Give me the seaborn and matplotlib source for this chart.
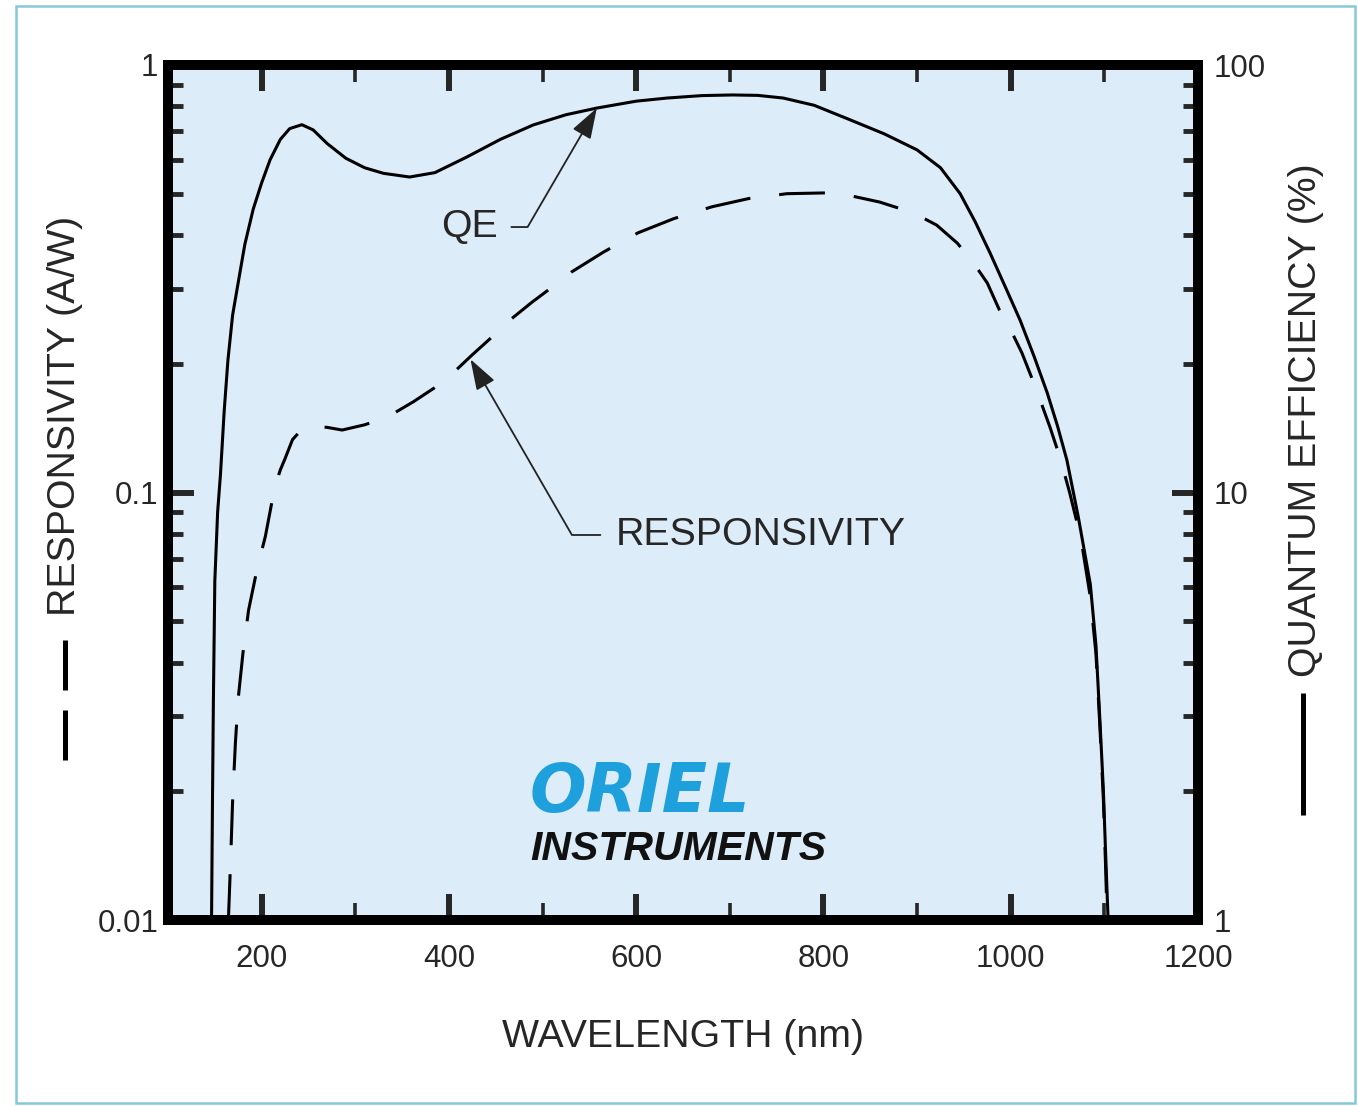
import numpy as np
import pandas as pd
import matplotlib.pyplot as plt
import seaborn as sns
from matplotlib.ticker import FixedLocator, LogLocator, NullFormatter
from matplotlib.lines import Line2D
from matplotlib.patches import Rectangle

# Quantum efficiency (%)
qe_nm = [146.5, 147.5, 148.5, 150, 153, 156, 160, 164, 169, 175, 182, 191, 200,
         209, 220, 230, 243, 255, 270, 290, 310, 330, 358, 385, 419, 455, 490,
         525, 558, 600, 633, 670, 703, 730, 757, 790, 828, 865, 900, 925, 946,
         962, 978, 995, 1010, 1025, 1039, 1050, 1060, 1072, 1085, 1091, 1095,
         1099, 1101, 1104]
qe_pct = [1.0, 1.9, 3.3, 6.2, 9.0, 11.0, 15.5, 20.4, 26, 31, 38, 46, 53,
          60, 67, 71, 72.5, 70.5, 65.5, 60.5, 57.5, 55.8, 54.7, 56, 60.9, 67, 72.4,
          76.5, 79.3, 82.3, 83.7, 84.8, 85.1, 84.9, 83.7, 80.5, 74.5, 69, 63.3, 57.5, 50,
          43, 36.3, 30, 25.3, 20.8, 17.1, 14.3, 11.9, 8.8, 6.1, 4.4, 3.0,
          2.0, 1.5, 1.0]

# Responsivity (A/W)
resp_nm = [164.5, 167, 169, 172, 175, 180, 186, 195, 204, 214, 220, 225, 233,
           241, 255, 270, 286, 310, 334, 362, 385, 404, 425, 445, 465, 489, 510,
           531, 565, 602, 640, 681, 720, 761, 800, 828, 860, 896, 921, 943, 960,
           975, 988, 1000, 1012, 1027, 1042, 1053, 1063, 1075, 1085, 1091, 1095,
           1099, 1101, 1103]
resp_aw = [0.0100, 0.014, 0.019, 0.026, 0.033, 0.042, 0.053, 0.066, 0.079, 0.103,
           0.113, 0.120, 0.133, 0.139, 0.143, 0.142, 0.140, 0.144, 0.150, 0.163,
           0.176, 0.190, 0.210, 0.230, 0.253, 0.279, 0.302, 0.328, 0.365, 0.405,
           0.437, 0.466, 0.487, 0.500, 0.502, 0.495, 0.478, 0.451, 0.422, 0.383,
           0.345, 0.309, 0.267, 0.240, 0.212, 0.175, 0.142, 0.120, 0.0998, 0.078,
           0.057, 0.042, 0.029, 0.019, 0.014, 0.0100]

x_ticks = [200, 400, 600, 800, 1000, 1200]
x_minor = [300, 500, 700, 900, 1100]
resp_ticks = [0.01, 0.1, 1]
resp_labels = ["0.01", "0.1", "1"]
qe_ticks = [1, 10, 100]
qe_labels = ["1", "10", "100"]

df_qe = pd.DataFrame({"nm": qe_nm, "qe": qe_pct})
df_r = pd.DataFrame({"nm": resp_nm, "resp": resp_aw})

sns.set_theme(style="ticks")
plt.rcParams["font.family"] = ["Liberation Sans", "DejaVu Sans"]

txt = "#262626"
lab_fs = 28.3
fig = plt.figure(figsize=(13.58, 11.06), dpi=100, facecolor="white")
ax = fig.add_axes([168 / 1358, 1 - 920 / 1106, 1030 / 1358, 855 / 1106])
ax.set_facecolor("#dcecf8")
ax2 = ax.twinx()

# responsivity - dashed, left axis
sns.lineplot(data=df_r, x="nm", y="resp", ax=ax, color="black", lw=2.2,
             linestyle=(0, (15, 9.5)), errorbar=None)
# QE - solid, right axis
sns.lineplot(data=df_qe, x="nm", y="qe", ax=ax2, color="black", lw=2.2,
             errorbar=None)

ax.set_xlim(100, 1200)
ax.set_yscale("log")
ax.set_ylim(0.01, 1)
ax2.set_yscale("log")
ax2.set_ylim(1, 100)

ax.xaxis.set_major_locator(FixedLocator(x_ticks))
ax.xaxis.set_minor_locator(FixedLocator(x_minor))
ax.set_xticklabels([str(t) for t in x_ticks])
ax.set_yticks(resp_ticks)
ax.set_yticklabels(resp_labels)
ax.yaxis.set_minor_locator(LogLocator(base=10, subs=range(2, 10)))
ax.yaxis.set_minor_formatter(NullFormatter())
ax2.set_yticks(qe_ticks)
ax2.set_yticklabels(qe_labels)
ax2.yaxis.set_minor_locator(LogLocator(base=10, subs=range(2, 10)))
ax2.yaxis.set_minor_formatter(NullFormatter())

ax.tick_params(axis="x", which="major", direction="in", length=19, width=4.3,
               top=True, bottom=True, labelsize=22.5, pad=17, labelcolor=txt)
ax.tick_params(axis="x", which="minor", direction="in", length=12, width=2.6,
               top=True, bottom=True)
ax.tick_params(axis="y", which="major", direction="in", length=19, width=4.3,
               left=True, right=False, labelsize=22.5, pad=7, labelcolor=txt)
ax.tick_params(axis="y", which="minor", direction="in", length=11, width=3.5,
               left=True, right=False)
ax2.tick_params(axis="y", which="major", direction="in", length=19, width=4.3,
                right=True, left=False, labelsize=22.5, pad=11, labelcolor=txt)
ax2.tick_params(axis="y", which="minor", direction="in", length=11, width=3.5,
                right=True, left=False)

for a in (ax, ax2):
    a.grid(False)
    for sp in a.spines.values():
        sp.set_visible(True)
        sp.set_linewidth(7.2)
        sp.set_color("black")

# axis labels
ax.set_xlabel("WAVELENGTH (nm)", fontsize=lab_fs, color=txt)
ax.xaxis.set_label_coords(0.5, -0.137)
ax.xaxis.label.set_va("center")
ax.set_ylabel("RESPONSIVITY (A/W)", fontsize=lab_fs, color=txt)
ax.yaxis.set_label_coords(-0.100, 0.5895)
ax.yaxis.label.set_va("center")
ax2.set_ylabel("QUANTUM EFFICIENCY (%)", fontsize=lab_fs, color=txt, rotation=90)
ax2.yaxis.set_label_coords(1.105, 0.585)
ax2.yaxis.label.set_va("center")

# line-style keys next to the axis labels
for y0, y1 in [(0.3275, 0.269), (0.2456, 0.187)]:
    ax.add_line(Line2D([-0.100, -0.100], [y0, y1], transform=ax.transAxes,
                       color="black", lw=3.6, clip_on=False, solid_capstyle="butt"))
ax.add_line(Line2D([1.102, 1.102], [0.2655, 0.1228], transform=ax.transAxes,
                   color="black", lw=3.6, clip_on=False, solid_capstyle="butt"))

# callouts
ax2.annotate("QE", xy=(558, 79.3), xycoords="data",
             xytext=(0.2932, 0.8105), textcoords="axes fraction",
             ha="center", va="center", fontsize=lab_fs, color=txt,
             arrowprops=dict(arrowstyle="-|>,head_length=0.95,head_width=0.32",
                             mutation_scale=20, lw=1.3, color="#222222",
                             connectionstyle="angle,angleA=0,angleB=59.8,rad=0",
                             shrinkA=7, shrinkB=0))
ax.annotate("RESPONSIVITY", xy=(423, 0.205), xycoords="data",
            xytext=(0.5752, 0.4503), textcoords="axes fraction",
            ha="center", va="center", fontsize=lab_fs, color=txt,
            arrowprops=dict(arrowstyle="-|>,head_length=0.95,head_width=0.32",
                            mutation_scale=20, lw=1.3, color="#222222",
                            connectionstyle="angle,angleA=0,angleB=120,rad=0",
                            shrinkA=8.5, shrinkB=0))

# logo
ax.text(0.3515, 1 - (812 - 65) / 855, "ORIEL", transform=ax.transAxes,
        fontsize=48, fontweight="bold", fontstyle="italic", color="#1ea0dc",
        family=["DejaVu Sans"], ha="left", va="baseline")
ax.text(0.3515, 1 - (860 - 65) / 855, "INSTRUMENTS", transform=ax.transAxes,
        fontsize=29.5, fontweight="bold", fontstyle="italic", color="#111111",
        ha="left", va="baseline")

# outer frame
fig.add_artist(Rectangle((16 / 1358, 3 / 1106), 1339 / 1358, 1097 / 1106,
                         transform=fig.transFigure, fill=False,
                         edgecolor="#86c8d6", lw=1.8))

fig.savefig("out.png", dpi=100, facecolor="white")
